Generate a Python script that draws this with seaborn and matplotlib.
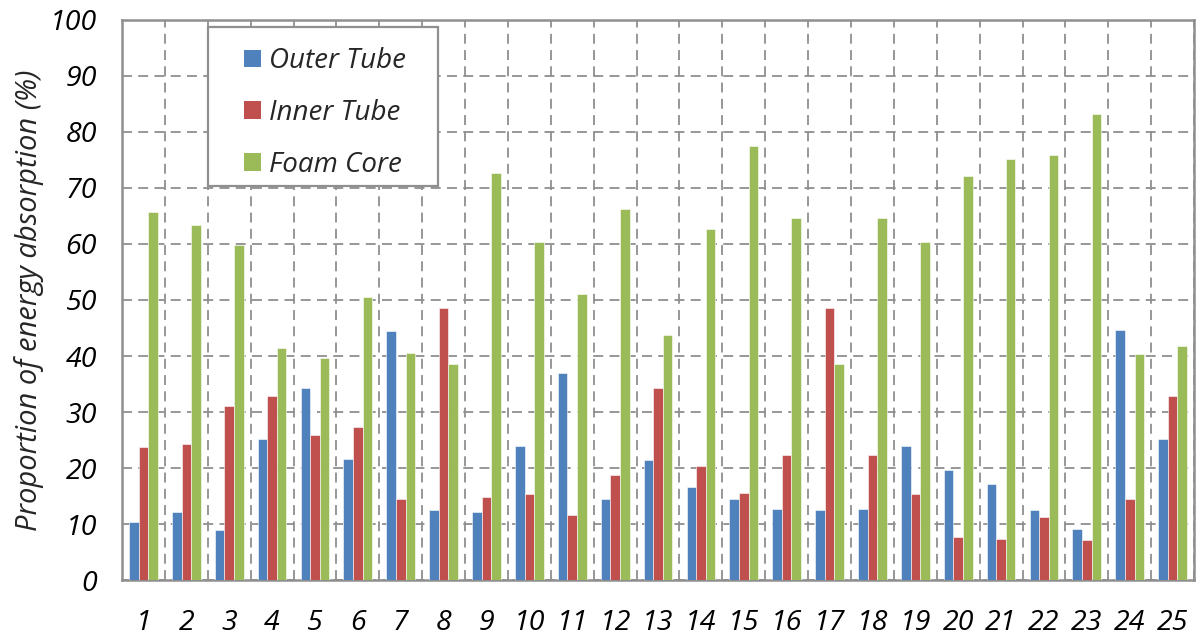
import numpy as np
import pandas as pd
import matplotlib
matplotlib.use("Agg")
import matplotlib.pyplot as plt
import seaborn as sns
from matplotlib.ticker import FixedLocator
from matplotlib.patches import Rectangle

cases = [str(i) for i in range(1, 26)]
outer_tube = [10.3, 12.2, 8.9, 25.2, 34.3, 21.7, 44.5, 12.5, 12.1, 23.9,
              36.9, 14.4, 21.5, 16.7, 14.5, 12.7, 12.5, 12.7, 23.9, 19.7,
              17.2, 12.5, 9.2, 44.6, 25.1]
inner_tube = [23.8, 24.3, 31.1, 32.9, 25.9, 27.4, 14.5, 48.5, 14.8, 15.3,
              11.7, 18.8, 34.3, 20.3, 15.5, 22.3, 48.6, 22.3, 15.4, 7.7,
              7.3, 11.2, 7.2, 14.5, 32.9]
foam_core = [65.7, 63.3, 59.8, 41.5, 39.6, 50.5, 40.5, 38.6, 72.7, 60.4,
             51.0, 66.3, 43.8, 62.7, 77.5, 64.7, 38.5, 64.7, 60.3, 72.1,
             75.1, 75.8, 83.2, 40.4, 41.7]
series_names = ["Outer Tube", "Inner Tube", "Foam Core"]
colors = ["#4F81BD", "#C0504D", "#9BBB59"]
y_ticks = list(range(0, 101, 10))

df = pd.DataFrame({
    "Case": cases * 3,
    "Value": outer_tube + inner_tube + foam_core,
    "Component": np.repeat(series_names, len(cases)),
})

sns.set_style("white")
plt.rcParams["font.family"] = ["Open Sans", "DejaVu Sans"]

fig = plt.figure(figsize=(12.01, 6.41), dpi=100)
ax = fig.add_axes([0.1016, 0.095, 0.8926, 0.874])

sns.barplot(data=df, x="Case", y="Value", hue="Component", order=cases,
            hue_order=series_names, palette=colors, width=0.67, saturation=1,
            edgecolor="white", linewidth=0.4, ax=ax, zorder=3)

ax.set_xlim(-0.5, len(cases) - 0.5)
ax.set_ylim(0, 100)
ax.yaxis.set_major_locator(FixedLocator(y_ticks))
ax.xaxis.set_minor_locator(FixedLocator(np.arange(-0.5, len(cases), 1.0)))
ax.set_axisbelow(True)

gray = "#8f8f8f"
grid_kw = dict(color=gray, linestyle=(0, (5.5, 3.5)), linewidth=1.3)
ax.grid(False)
ax.yaxis.grid(True, which="major", **grid_kw)
ax.xaxis.grid(True, which="minor", **grid_kw)

for s in ax.spines.values():
    s.set_visible(True)
    s.set_color(gray)
    s.set_linewidth(1.8)

ax.tick_params(axis="x", which="major", length=0, pad=21)
ax.tick_params(axis="x", which="minor", length=7, width=1.5, color=gray, direction="out")
ax.tick_params(axis="y", which="major", length=7, width=1.5, color=gray, direction="out", pad=11)
ax.set_xticks(range(len(cases)))
ax.set_xticklabels(cases, fontsize=20.5, fontstyle="italic", color="black")
ax.set_yticklabels([str(t) for t in y_ticks], fontsize=20.5, fontstyle="italic", color="black")

ax.set_xlabel("")
ax.set_ylabel("Proportion of energy absorption (%)", fontsize=21, fontstyle="italic", labelpad=4)

# legend box (frame drawn separately for Excel-like padding)
ax.add_patch(Rectangle((0.080, 0.704), 0.215, 0.283, transform=ax.transAxes,
                       facecolor="white", edgecolor=gray, linewidth=1.6, zorder=5))
leg = ax.legend(loc="upper left", bbox_to_anchor=(0.114, 0.951), frameon=False,
                prop={"size": 20, "style": "italic"}, handlelength=0.6,
                handleheight=0.6, handletextpad=0.3, labelspacing=0.85,
                borderpad=0, borderaxespad=0)
leg.set_zorder(6)
for h in leg.legend_handles:
    h.set_edgecolor("none")

fig.savefig("out.png", dpi=100)
